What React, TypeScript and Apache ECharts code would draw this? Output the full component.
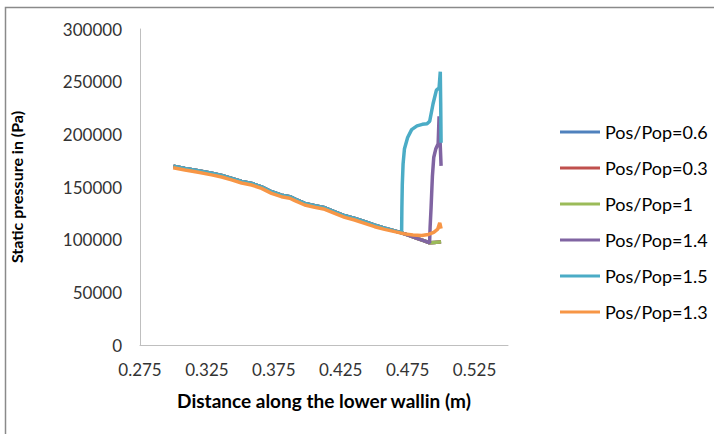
import React, { useEffect, useRef } from "react";
import * as echarts from "echarts";

const seriesNames = ["Pos/Pop=0.6", "Pos/Pop=0.3", "Pos/Pop=1", "Pos/Pop=1.4", "Pos/Pop=1.5", "Pos/Pop=1.3"];
const seriesColors = ["#4F81BD", "#C0504D", "#9BBB59", "#8064A2", "#4BACC6", "#F79646"];

const yTicks = [0, 50000, 100000, 150000, 200000, 250000, 300000];
const xTickStart = 0.275;
const xTickStep = 0.05;
const xMax = 0.55;

// shared wall pressure curve (all cases except the orange one follow it)
const mainX = [0.3, 0.3086, 0.3185, 0.3285, 0.336, 0.3434, 0.3509, 0.3584, 0.3658, 0.3733, 0.3807, 0.3869, 0.3907, 0.3981, 0.4056, 0.4131, 0.4205, 0.428, 0.4354, 0.4429, 0.4504, 0.4578, 0.4653, 0.4705];
const mainY = [169800, 167700, 165500, 163000, 161000, 158200, 155300, 153400, 150200, 145500, 142300, 140800, 138500, 134400, 132200, 130300, 126500, 122700, 120200, 117000, 113800, 111000, 108300, 106500];

// low-pressure tail (0.6, 0.3, 1)
const lowTailX = [0.476, 0.482, 0.4875, 0.4914, 0.495, 0.5];
const lowTailY = [104000, 101200, 98900, 97000, 97400, 97900];

// Pos/Pop=1.4 shock tail (after 0.4914)
const purpleTailX = [0.4918, 0.4925, 0.4935, 0.4945, 0.496, 0.4978, 0.4985, 0.4992, 0.5];
const purpleTailY = [112000, 130000, 160000, 178000, 186000, 191000, 217000, 195000, 170000];

// Pos/Pop=1.5 shock tail (after 0.4705)
const tealTailX = [0.4707, 0.471, 0.4716, 0.4726, 0.475, 0.478, 0.482, 0.486, 0.4895, 0.4915, 0.494, 0.4965, 0.4985, 0.4994, 0.4997, 0.5];
const tealTailY = [130000, 152000, 172000, 186000, 197000, 204500, 208000, 209500, 210000, 212500, 229000, 242000, 244000, 259500, 230000, 192000];

// Pos/Pop=1.3
const orangeX = [0.2998, 0.3086, 0.3185, 0.3285, 0.336, 0.3434, 0.3509, 0.3584, 0.3658, 0.3733, 0.3807, 0.3869, 0.3907, 0.3981, 0.4056, 0.4131, 0.4205, 0.428, 0.4354, 0.4429, 0.4504, 0.4578, 0.4653, 0.4728, 0.479, 0.4855, 0.4905, 0.4945, 0.4975, 0.499, 0.5];
const orangeY = [168300, 166200, 164000, 161500, 159500, 156700, 153800, 151900, 148700, 144000, 140800, 139300, 137000, 132900, 130700, 128800, 125000, 121200, 118700, 115500, 112300, 109800, 107600, 105500, 104500, 104000, 105000, 107000, 110000, 116000, 110500];

const zip = (xs: number[], ys: number[]) => xs.map((x, i) => [x, ys[i]]);

const lowData = [...zip(mainX, mainY), ...zip(lowTailX, lowTailY)];
const purpleData = [...zip(mainX, mainY), ...zip(lowTailX.slice(0, 4), lowTailY.slice(0, 4)), ...zip(purpleTailX, purpleTailY)];
const tealData = [...zip(mainX, mainY), ...zip(tealTailX, tealTailY)];
const orangeData = zip(orangeX, orangeY);

const allData = [lowData, lowData, lowData, purpleData, tealData, orangeData];

const FONT = "Lato, 'Open Sans', sans-serif";

export default function App() {
  const ref = useRef<HTMLDivElement>(null);
  useEffect(() => {
    if (!ref.current) return;
    const chart = echarts.init(ref.current, undefined, { renderer: "svg" });
    chart.setOption({
      animation: false,
      backgroundColor: "#ffffff",
      textStyle: { fontFamily: FONT },
      graphic: [
        {
          type: "rect",
          shape: { x: 5.5, y: 7.5, width: 900, height: 900 },
          style: { fill: "none", stroke: "#8a8a8a", lineWidth: 1.5 },
          silent: true,
        },
      ],
      grid: { left: 140, right: 206, top: 29, bottom: 89, containLabel: false },
      legend: {
        orient: "vertical",
        left: 555,
        top: 116,
        itemWidth: 40,
        itemHeight: 14,
        itemGap: 14,
        icon: "path://M0,5.5 L40,5.5 L40,8.5 L0,8.5 Z",
        data: seriesNames,
        textStyle: { fontFamily: FONT, fontSize: 18, color: "#000", lineHeight: 22 },
      },
      xAxis: {
        type: "value",
        min: xTickStart,
        max: xMax,
        interval: xTickStep,
        name: "Distance along the lower wallin (m)",
        nameLocation: "middle",
        nameGap: 46,
        nameTextStyle: { fontFamily: FONT, fontSize: 19, fontWeight: "bold", color: "#000" },
        axisLine: { show: true, lineStyle: { color: "#bfbfbf", width: 1 } },
        axisTick: { show: false },
        splitLine: { show: false },
        axisLabel: {
          margin: 16,
          fontFamily: FONT,
          fontSize: 17,
          color: "#333",
          showMaxLabel: false,
          formatter: (v: number) => (Math.abs(v - xMax) < 1e-6 ? "" : v.toFixed(3)),
        },
      },
      yAxis: {
        type: "value",
        min: yTicks[0],
        max: yTicks[yTicks.length - 1],
        interval: yTicks[1] - yTicks[0],
        name: "Static pressure in (Pa)",
        nameLocation: "middle",
        nameGap: 116,
        nameTextStyle: { fontFamily: FONT, fontSize: 16, fontWeight: "bold", color: "#000" },
        axisLine: { show: true, lineStyle: { color: "#bfbfbf", width: 1 } },
        axisTick: { show: false },
        splitLine: { show: false },
        axisLabel: {
          margin: 18,
          fontFamily: FONT,
          fontSize: 17,
          color: "#333",
          formatter: (v: number) => String(v),
        },
      },
      series: seriesNames.map((name, i) => ({
        name,
        type: "line",
        data: allData[i],
        showSymbol: false,
        symbol: "none",
        smooth: false,
        color: seriesColors[i],
        lineStyle: { color: seriesColors[i], width: 3.5 },
      })),
    });
    return () => chart.dispose();
  }, []);
  return <div ref={ref} style={{ position: "fixed", left: 0, top: 0, width: 714, height: 434 }} />;
}
